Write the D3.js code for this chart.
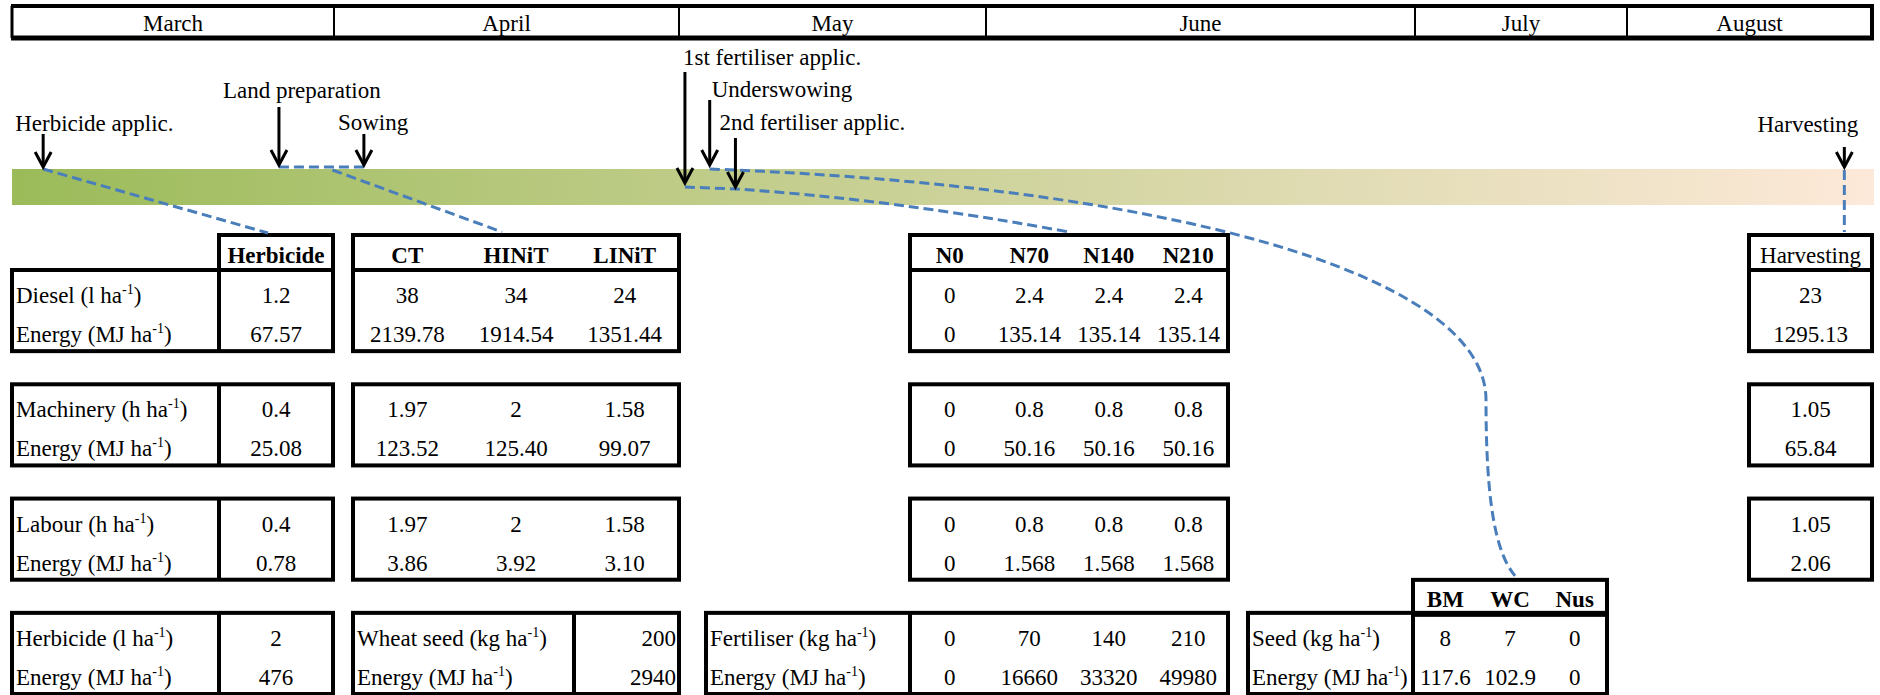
<!DOCTYPE html>
<html><head><meta charset="utf-8">
<script src="https://cdn.jsdelivr.net/npm/d3@7"></script>
<style>
body{margin:0;background:#fff;}
svg{display:block;font-family:"Liberation Serif","Times New Roman",serif;}
</style>
</head><body>
<svg id="c" width="1880" height="695"></svg>
<script>
// ================= DATA =================
const months = ["March","April","May","June","July","August"];
const monthStartDay = [0,31,61,92,122,153,184];           // day of season at each month boundary
const events = ["Herbicide applic.","Land preparation","Sowing","1st fertiliser applic.","Underswowing","2nd fertiliser applic.","Harvesting"];
const eventDay = [3, 25.7, 33.6, 61.6, 64.1, 66.7, 180.5]; // day of season

const groupNames = ["Diesel","Machinery","Labour","Input"];
const rowLabels = [
  ["Diesel (l ha","Energy (MJ ha"],
  ["Machinery (h ha","Energy (MJ ha"],
  ["Labour (h ha","Energy (MJ ha"],
  ["Herbicide (l ha","Energy (MJ ha"]
];
const herbicideCols = ["Herbicide"];
const herbicideValues = [["1.2","67.57"],["0.4","25.08"],["0.4","0.78"],["2","476"]];

const tillageCols = ["CT","HINiT","LINiT"];
const tillageValues = [
  [["38","34","24"],["2139.78","1914.54","1351.44"]],
  [["1.97","2","1.58"],["123.52","125.40","99.07"]],
  [["1.97","2","1.58"],["3.86","3.92","3.10"]]
];
const wheatSeedLabels = ["Wheat seed (kg ha","Energy (MJ ha"];
const wheatSeedValues = ["200","2940"];

const fertCols = ["N0","N70","N140","N210"];
const fertValues = [
  [["0","2.4","2.4","2.4"],["0","135.14","135.14","135.14"]],
  [["0","0.8","0.8","0.8"],["0","50.16","50.16","50.16"]],
  [["0","0.8","0.8","0.8"],["0","1.568","1.568","1.568"]]
];
const fertInputLabels = ["Fertiliser (kg ha","Energy (MJ ha"];
const fertInputValues = [["0","70","140","210"],["0","16660","33320","49980"]];

const harvestCols = ["Harvesting"];
const harvestValues = [["23","1295.13"],["1.05","65.84"],["1.05","2.06"]];

const underCols = ["BM","WC","Nus"];
const underLabels = ["Seed (kg ha","Energy (MJ ha"];
const underValues = [["8","7","0"],["117.6","102.9","0"]];

// ================= LAYOUT =================
const svg = d3.select("#c");
const FS = 23;
const monthEdgeX = [12,334,679,986,1415,1627,1872];
const xDay = d3.scaleLinear().domain(monthStartDay).range(monthEdgeX);
const head = {y0:6, y1:38};
const bar = {x0:12, x1:1874, y0:169, y1:205};
const blue = "#4a7ebb";

// event layout: label baseline, label dx, arrow top, arrow tip, anchor
const evLayout = [
  {ly:131, dx:-28, a0:134, a1:167, anchor:"start"},
  {ly:98,  dx:-56, a0:107, a1:165, anchor:"start"},
  {ly:130, dx:-26, a0:134, a1:165, anchor:"start"},
  {ly:65,  dx:-2,  a0:72,  a1:183, anchor:"start"},
  {ly:97,  dx:2,   a0:100, a1:165, anchor:"start"},
  {ly:130, dx:-16, a0:138, a1:187, anchor:"start"},
  {ly:132, dx:14,  a0:147, a1:167, anchor:"end"}
];

// ---- month header ----
const hg = svg.append("g");
hg.selectAll("line.div").data(monthEdgeX.slice(1,-1)).join("line")
  .attr("x1",d=>d).attr("x2",d=>d).attr("y1",head.y0).attr("y2",head.y1)
  .attr("stroke","#000").attr("stroke-width",2);
hg.append("line").attr("x1",monthEdgeX[0]-1).attr("x2",1874).attr("y1",head.y0).attr("y2",head.y0).attr("stroke","#000").attr("stroke-width",4);
hg.append("line").attr("x1",monthEdgeX[0]-1).attr("x2",1874).attr("y1",head.y1).attr("y2",head.y1).attr("stroke","#000").attr("stroke-width",5);
hg.append("line").attr("x1",monthEdgeX[0]).attr("x2",monthEdgeX[0]).attr("y1",head.y0).attr("y2",head.y1).attr("stroke","#000").attr("stroke-width",3);
hg.append("line").attr("x1",1872).attr("x2",1872).attr("y1",head.y0).attr("y2",head.y1).attr("stroke","#000").attr("stroke-width",4);
hg.selectAll("text").data(months).join("text")
  .attr("x",(d,i)=>(monthEdgeX[i]+monthEdgeX[i+1])/2).attr("y",31)
  .attr("text-anchor","middle").attr("font-size",FS).text(d=>d);

// ---- gradient bar ----
const defs = svg.append("defs");
const lg = defs.append("linearGradient").attr("id","gb").attr("x1","0").attr("x2","1").attr("y1","0").attr("y2","0");
lg.append("stop").attr("offset","0").attr("stop-color","#9bbb59");
lg.append("stop").attr("offset","1").attr("stop-color","#fde9d9");
svg.append("rect").attr("x",bar.x0).attr("y",bar.y0).attr("width",bar.x1-bar.x0).attr("height",bar.y1-bar.y0).attr("fill","url(#gb)");

// ================= TABLES =================
const tg = svg.append("g");
const yG = d3.scaleBand().domain(groupNames).range([270,694]).paddingInner(0.29);
const rowOff = [33, 72];
const headH = 35;

function rect(x0,y0,x1,y1){
  tg.append("rect").attr("x",x0).attr("y",y0).attr("width",x1-x0).attr("height",y1-y0)
    .attr("fill","none").attr("stroke","#000").attr("stroke-width",4);
}
function vline(x,y0,y1){
  tg.append("line").attr("x1",x).attr("x2",x).attr("y1",y0).attr("y2",y1).attr("stroke","#000").attr("stroke-width",4);
}
function txt(x,y,t,anchor="middle",bold=false){
  tg.append("text").attr("x",x).attr("y",y).attr("text-anchor",anchor)
    .attr("font-size",FS).attr("font-weight",bold?"bold":"normal").text(t);
}
function label(x,y,t){
  const e = tg.append("text").attr("x",x).attr("y",y).attr("font-size",FS);
  e.append("tspan").text(t);
  e.append("tspan").attr("dy",-9).attr("font-size",14).text("-1");
  e.append("tspan").attr("dy",9).text(")");
}
function header(cols, x0, x1, y1, bold=true){
  const xb = d3.scaleBand().domain(cols).range([x0,x1]);
  rect(x0, y1-headH, x1, y1);
  cols.forEach(c=>txt(xb(c)+xb.bandwidth()/2, y1-headH/2+10, c, "middle", bold));
}
function valueCols(cols, x0, x1, top, rows){
  const xb = d3.scaleBand().domain(cols).range([x0,x1]);
  rows.forEach((r,ri)=>r.forEach((v,ci)=>txt(xb(cols[ci])+xb.bandwidth()/2, top+rowOff[ri], v)));
}

// --- Box A: herbicide application ---
const A = {x0:12, div:219, x1:333};
header(herbicideCols, A.div, A.x1, yG(groupNames[0]));
groupNames.forEach((gname,gi)=>{
  const top = yG(gname), bot = top + yG.bandwidth();
  rect(A.x0, top, A.x1, bot); vline(A.div, top, bot);
  rowLabels[gi].forEach((l,ri)=>label(A.x0+4, top+rowOff[ri], l));
  valueCols(herbicideCols, A.div, A.x1, top, herbicideValues[gi].map(v=>[v]));
});

// --- Box B: tillage ---
const B = {x0:353, x1:679, div:574};
header(tillageCols, B.x0, B.x1, yG(groupNames[0]));
groupNames.slice(0,3).forEach((gname,gi)=>{
  const top = yG(gname), bot = top + yG.bandwidth();
  rect(B.x0, top, B.x1, bot);
  valueCols(tillageCols, B.x0, B.x1, top, tillageValues[gi]);
});
{
  const top = yG(groupNames[3]), bot = top + yG.bandwidth();
  rect(B.x0, top, B.x1, bot); vline(B.div, top, bot);
  wheatSeedLabels.forEach((l,ri)=>label(B.x0+4, top+rowOff[ri], l));
  wheatSeedValues.forEach((v,ri)=>txt(B.x1-3, top+rowOff[ri], v, "end"));
}

// --- Box C: fertiliser ---
const C = {x0:910, x1:1228, bx0:706};
header(fertCols, C.x0, C.x1, yG(groupNames[0]));
groupNames.slice(0,3).forEach((gname,gi)=>{
  const top = yG(gname), bot = top + yG.bandwidth();
  rect(C.x0, top, C.x1, bot);
  valueCols(fertCols, C.x0, C.x1, top, fertValues[gi]);
});
{
  const top = yG(groupNames[3]), bot = top + yG.bandwidth();
  rect(C.bx0, top, C.x1, bot); vline(C.x0, top, bot);
  fertInputLabels.forEach((l,ri)=>label(C.bx0+4, top+rowOff[ri], l));
  valueCols(fertCols, C.x0, C.x1, top, fertInputValues);
}

// --- Box D: harvesting ---
const D = {x0:1749, x1:1872};
header(harvestCols, D.x0, D.x1, yG(groupNames[0]), false);
groupNames.slice(0,3).forEach((gname,gi)=>{
  const top = yG(gname), bot = top + yG.bandwidth();
  rect(D.x0, top, D.x1, bot);
  valueCols(harvestCols, D.x0, D.x1, top, harvestValues[gi].map(v=>[v]));
});

// --- Box E: undersowing ---
const E = {x0:1248, div:1413, x1:1607};
{
  const top = yG(groupNames[3]), bot = top + yG.bandwidth();
  header(underCols, E.div, E.x1, top+2);
  rect(E.x0, top, E.x1, bot); vline(E.div, top, bot);
  underLabels.forEach((l,ri)=>label(E.x0+4, top+rowOff[ri], l));
  valueCols(underCols, E.div, E.x1, top, underValues);
}

// ================= CONNECTORS =================
const cg = svg.append("g").attr("fill","none").attr("stroke",blue).attr("stroke-width",3).attr("stroke-dasharray","10,5");
const ex = eventDay.map(d=>xDay(d));
const headTop = yG(groupNames[0]) - headH;
// herbicide
cg.append("path").attr("d", d3.line()([[ex[0],bar.y0],[(A.div+A.x1)/2-8, headTop-2]]));
// land preparation - sowing
cg.append("path").attr("d", d3.line()([[ex[1],167],[ex[2],167]]));
cg.append("path").attr("d", d3.line()([[(ex[1]+ex[2])/2+11,170],[(B.x0+B.x1)/2-14, headTop-3]]));
// fertiliser
{
  const p = d3.path();
  p.moveTo(ex[3],187); p.lineTo(ex[5],189);
  p.quadraticCurveTo(890,199,(C.x0+C.x1)/2, headTop-3);
  cg.append("path").attr("d", p.toString());
}
// undersowing
{
  const p = d3.path();
  const endX = (E.div+E.x1)/2+5, endY = yG(groupNames[3]) - headH - 2;
  p.moveTo(ex[4],169);
  p.bezierCurveTo(1150,185,1486,270,1486,400);
  p.bezierCurveTo(1486,500,1495,552,endX,endY);
  cg.append("path").attr("d", p.toString());
}
// harvesting
cg.append("path").attr("d", d3.line()([[ex[6],bar.y0+1],[ex[6],headTop-3]]));

// ================= EVENT ARROWS =================
const ag = svg.append("g");
events.forEach((ev,i)=>{
  const L = evLayout[i], x = ex[i];
  ag.append("text").attr("x",x+L.dx).attr("y",L.ly).attr("text-anchor",L.anchor).attr("font-size",FS).text(ev);
  ag.append("line").attr("x1",x).attr("x2",x).attr("y1",L.a0).attr("y2",L.a1-1)
    .attr("stroke","#000").attr("stroke-width",3);
  ag.append("path").attr("d",`M${x-8},${L.a1-15}L${x},${L.a1}L${x+8},${L.a1-15}`)
    .attr("fill","none").attr("stroke","#000").attr("stroke-width",3);
});
</script>
</body></html>
